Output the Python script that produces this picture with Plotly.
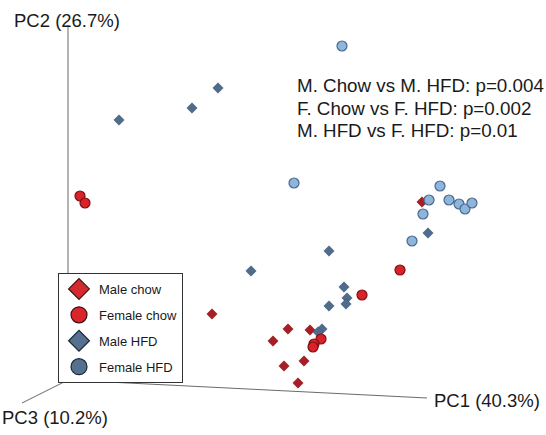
import plotly.graph_objects as go

# Projected PCoA coordinates (screen-projected, from picture)
male_chow_x = [422, 212, 288, 310, 273, 304, 284, 298]
male_chow_y = [202, 314, 329, 330, 341, 361, 366, 383]

female_chow_x = [80, 85, 400, 362, 321, 314, 313]
female_chow_y = [196, 203, 270, 295, 339, 344, 347]

male_hfd_x = [218, 192, 119, 329, 251, 428, 344, 347, 346, 329, 322, 318]
male_hfd_y = [88, 108, 120, 251, 271, 233, 287, 298, 304, 306, 329, 332]

female_hfd_x = [342, 294, 440, 429, 449, 459, 465, 472, 423, 412]
female_hfd_y = [46, 183, 186, 200, 200, 204, 209, 203, 214, 241]

group_names = ["Male chow", "Female chow", "Male HFD", "Female HFD"]
pvalue_lines = ["M. Chow vs M. HFD: p=0.004",
                "F. Chow vs F. HFD: p=0.002",
                "M. HFD vs F. HFD: p=0.01"]
axis_labels = ["PC1 (40.3%)", "PC2 (26.7%)", "PC3 (10.2%)"]

FONT = "Liberation Sans, Arial, Helvetica, sans-serif"
W, H = 546, 435

fig = go.Figure()

fig.add_trace(go.Scatter(x=male_chow_x, y=male_chow_y, mode="markers", showlegend=False,
                         marker=dict(symbol="diamond", size=8, color="#a91d24",
                                     line=dict(width=0.5, color="#7a1016"))))
fig.add_trace(go.Scatter(x=male_hfd_x, y=male_hfd_y, mode="markers", showlegend=False,
                         marker=dict(symbol="diamond", size=8, color="#4f6c8c",
                                     line=dict(width=0.5, color="#3a536e"))))
fig.add_trace(go.Scatter(x=female_hfd_x, y=female_hfd_y, mode="markers", showlegend=False,
                         marker=dict(symbol="circle", size=10, color="#8fb5db",
                                     line=dict(width=1.2, color="#46698f"))))
fig.add_trace(go.Scatter(x=female_chow_x, y=female_chow_y, mode="markers", showlegend=False,
                         marker=dict(symbol="circle", size=10, color="#d8232a",
                                     line=dict(width=1.2, color="#7d0f12"))))

leg_styles = [
    dict(symbol="diamond", color="#d42a2e", line=dict(width=1.2, color="#3a1010")),
    dict(symbol="circle", color="#d9252b", line=dict(width=1.2, color="#3a1010")),
    dict(symbol="diamond", color="#56708f", line=dict(width=1.2, color="#1c2836")),
    dict(symbol="circle", color="#56708f", line=dict(width=1.2, color="#1c2836")),
]
for name, st in zip(group_names, leg_styles):
    fig.add_trace(go.Scatter(x=[None], y=[None], mode="markers", name=name,
                             legendgroup=name, showlegend=True,
                             marker=dict(size=16, **st)))

ox, oy = 68, 380
line_style = dict(color="#6a6a6a", width=1)
fig.add_shape(type="line", x0=ox, y0=oy, x1=ox, y1=25, line=line_style, layer="below")
fig.add_shape(type="line", x0=ox, y0=oy, x1=427, y1=398, line=line_style, layer="below")
fig.add_shape(type="line", x0=ox, y0=oy, x1=22, y1=403, line=line_style, layer="below")

lab_font = dict(size=18.5, color="#1a1a1a", family=FONT)
fig.add_annotation(x=432, y=400, text=axis_labels[0], showarrow=False, xanchor="left",
                   yanchor="middle", font=lab_font)
fig.add_annotation(x=12, y=20, text=axis_labels[1], showarrow=False, xanchor="left",
                   yanchor="middle", font=lab_font)
fig.add_annotation(x=0, y=417, text=axis_labels[2], showarrow=False, xanchor="left",
                   yanchor="middle", font=lab_font, xref="paper")

for t, yy in zip(pvalue_lines, [85, 108, 130]):
    fig.add_annotation(x=295, y=yy, text=t, showarrow=False, xanchor="left",
                       yanchor="middle", font=dict(size=18.8, color="#1a1a1a", family=FONT))

fig.update_layout(
    width=W, height=H, autosize=False,
    margin=dict(l=0, r=0, t=0, b=0, pad=0),
    paper_bgcolor="white", plot_bgcolor="white",
    xaxis=dict(range=[0, W], visible=False, fixedrange=True),
    yaxis=dict(range=[H, 0], visible=False, fixedrange=True),
    legend=dict(x=58 / W, y=1 - 273 / H, xanchor="left", yanchor="top",
                bordercolor="#333333", borderwidth=1, bgcolor="white",
                font=dict(size=13, family=FONT, color="#1a1a1a"),
                itemsizing="trace", tracegroupgap=6, entrywidth=88),
    font=dict(family=FONT),
)

fig.write_html("out.html", config={"displayModeBar": False},
               post_script="document.body.style.margin='0';document.body.style.overflow='hidden';")
